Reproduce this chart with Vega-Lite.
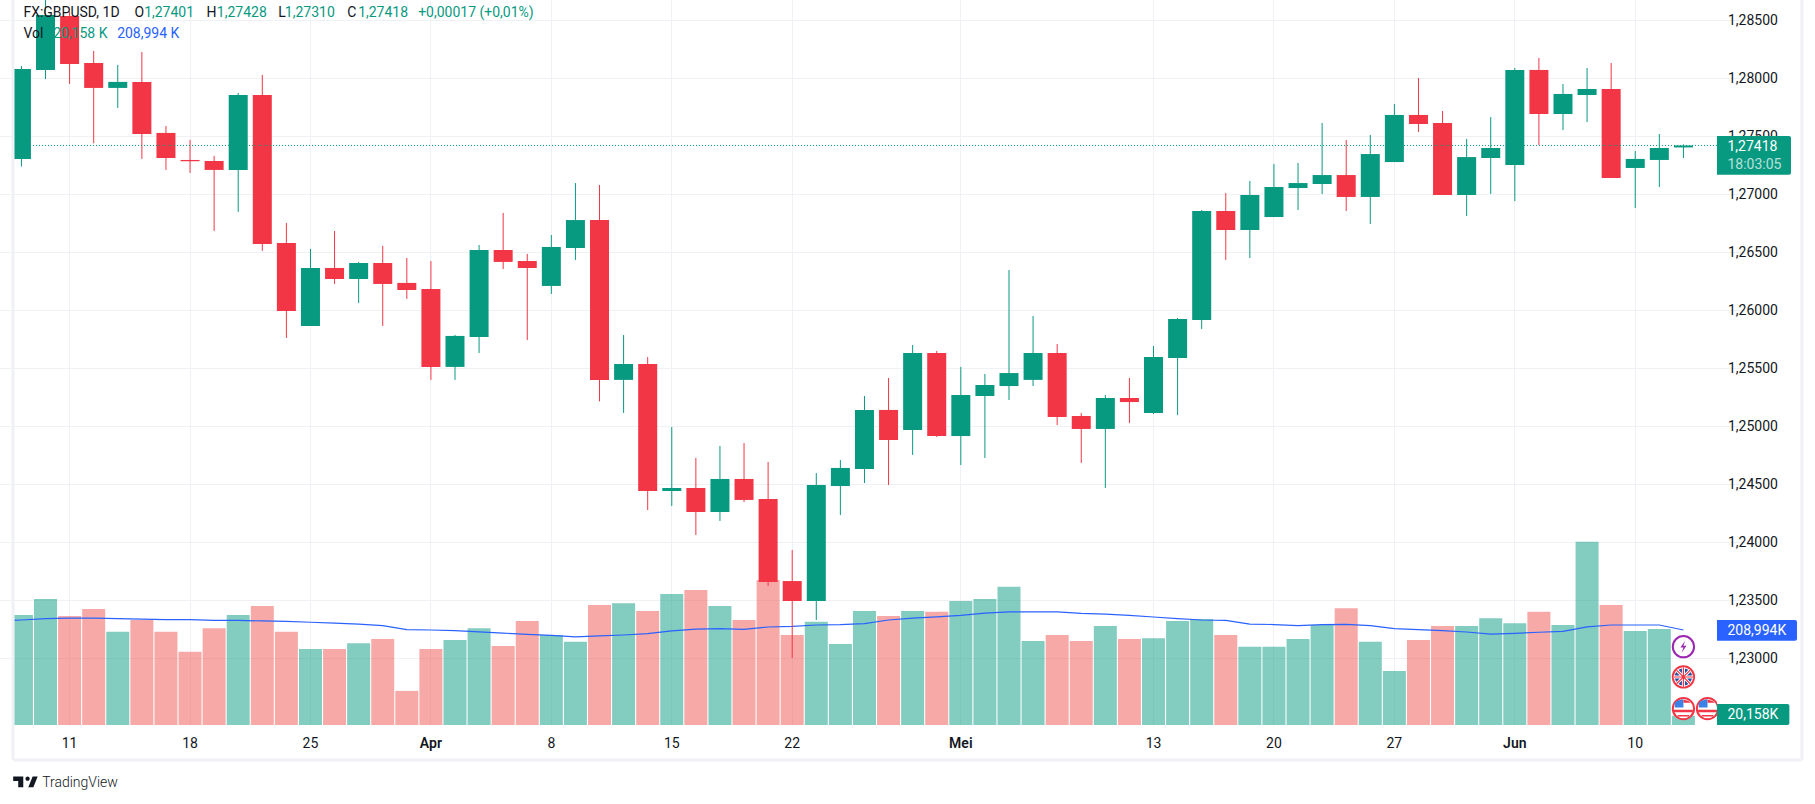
{
  "$schema": "https://vega.github.io/schema/vega-lite/v6.json",
  "description": "FX:GBPUSD daily candles with volume",
  "width": 1704,
  "height": 725,
  "autosize": {"type": "none"},
  "padding": {"left": 13, "top": 0, "right": 98, "bottom": 79},
  "background": "#ffffff",
  "config": {
    "view": {"stroke": null},
    "text": {"font": "Roboto", "fontSize": 14},
    "axis": {"labelFont": "Roboto", "labelFontSize": 14, "labelColor": "#131722"}
  },
  "datasets": {
    "bars": [
      {"date":"2024-03-06","open":1.27200,"high":1.27400,"low":1.27100,"close":1.27300,"vol":230,"ma":229},
      {"date":"2024-03-07","open":1.27302,"high":1.28103,"low":1.27236,"close":1.28078,"vol":242,"ma":231},
      {"date":"2024-03-08","open":1.28069,"high":1.28715,"low":1.27991,"close":1.28543,"vol":277,"ma":234},
      {"date":"2024-03-11","open":1.28534,"high":1.28572,"low":1.27948,"close":1.28121,"vol":240,"ma":235},
      {"date":"2024-03-12","open":1.28129,"high":1.28233,"low":1.27437,"close":1.27914,"vol":255,"ma":235},
      {"date":"2024-03-13","open":1.27914,"high":1.28112,"low":1.27741,"close":1.27966,"vol":205,"ma":234},
      {"date":"2024-03-14","open":1.27966,"high":1.28224,"low":1.27302,"close":1.27517,"vol":231,"ma":233},
      {"date":"2024-03-15","open":1.27526,"high":1.27586,"low":1.27207,"close":1.27310,"vol":205,"ma":232},
      {"date":"2024-03-18","open":1.27293,"high":1.27466,"low":1.27181,"close":1.27282,"vol":161,"ma":232},
      {"date":"2024-03-19","open":1.27284,"high":1.27328,"low":1.26681,"close":1.27207,"vol":213,"ma":230},
      {"date":"2024-03-20","open":1.27207,"high":1.27871,"low":1.26845,"close":1.27853,"vol":242,"ma":230},
      {"date":"2024-03-21","open":1.27853,"high":1.28026,"low":1.26509,"close":1.26569,"vol":262,"ma":229},
      {"date":"2024-03-22","open":1.26578,"high":1.26750,"low":1.25759,"close":1.25991,"vol":205,"ma":228},
      {"date":"2024-03-25","open":1.25862,"high":1.26526,"low":1.25862,"close":1.26362,"vol":167,"ma":226},
      {"date":"2024-03-26","open":1.26362,"high":1.26681,"low":1.26224,"close":1.26267,"vol":167,"ma":224},
      {"date":"2024-03-27","open":1.26267,"high":1.26414,"low":1.26060,"close":1.26405,"vol":180,"ma":222},
      {"date":"2024-03-28","open":1.26405,"high":1.26552,"low":1.25862,"close":1.26224,"vol":189,"ma":218.5},
      {"date":"2024-03-29","open":1.26233,"high":1.26448,"low":1.26095,"close":1.26172,"vol":75,"ma":210},
      {"date":"2024-04-01","open":1.26181,"high":1.26422,"low":1.25397,"close":1.25509,"vol":167,"ma":209},
      {"date":"2024-04-02","open":1.25509,"high":1.25785,"low":1.25397,"close":1.25776,"vol":187,"ma":207.5},
      {"date":"2024-04-03","open":1.25767,"high":1.26560,"low":1.25629,"close":1.26517,"vol":213,"ma":205},
      {"date":"2024-04-04","open":1.26517,"high":1.26836,"low":1.26353,"close":1.26414,"vol":174,"ma":202},
      {"date":"2024-04-05","open":1.26422,"high":1.26483,"low":1.25741,"close":1.26362,"vol":229,"ma":199.5},
      {"date":"2024-04-08","open":1.26207,"high":1.26646,"low":1.26138,"close":1.26543,"vol":198,"ma":197},
      {"date":"2024-04-09","open":1.26534,"high":1.27094,"low":1.26431,"close":1.26775,"vol":183,"ma":194},
      {"date":"2024-04-10","open":1.26775,"high":1.27077,"low":1.25212,"close":1.25397,"vol":264,"ma":196},
      {"date":"2024-04-11","open":1.25397,"high":1.25784,"low":1.25112,"close":1.25534,"vol":268,"ma":198},
      {"date":"2024-04-12","open":1.25534,"high":1.25594,"low":1.24275,"close":1.24439,"vol":251,"ma":201},
      {"date":"2024-04-15","open":1.24439,"high":1.24991,"low":1.24310,"close":1.24465,"vol":288,"ma":207},
      {"date":"2024-04-16","open":1.24465,"high":1.24724,"low":1.24060,"close":1.24258,"vol":297,"ma":211},
      {"date":"2024-04-17","open":1.24258,"high":1.24827,"low":1.24181,"close":1.24543,"vol":262,"ma":212},
      {"date":"2024-04-18","open":1.24543,"high":1.24853,"low":1.24344,"close":1.24362,"vol":231,"ma":210.5},
      {"date":"2024-04-19","open":1.24370,"high":1.24689,"low":1.23620,"close":1.23655,"vol":319,"ma":215.6},
      {"date":"2024-04-22","open":1.23663,"high":1.23931,"low":1.22999,"close":1.23491,"vol":198,"ma":217},
      {"date":"2024-04-23","open":1.23491,"high":1.24594,"low":1.23327,"close":1.24491,"vol":227,"ma":220},
      {"date":"2024-04-24","open":1.24482,"high":1.24706,"low":1.24232,"close":1.24638,"vol":178,"ma":220.7},
      {"date":"2024-04-25","open":1.24629,"high":1.25258,"low":1.24508,"close":1.25138,"vol":251,"ma":223},
      {"date":"2024-04-26","open":1.25138,"high":1.25413,"low":1.24491,"close":1.24879,"vol":240,"ma":231},
      {"date":"2024-04-29","open":1.24965,"high":1.25698,"low":1.24750,"close":1.25629,"vol":251,"ma":235},
      {"date":"2024-04-30","open":1.25629,"high":1.25646,"low":1.24905,"close":1.24913,"vol":249,"ma":238},
      {"date":"2024-05-01","open":1.24913,"high":1.25509,"low":1.24663,"close":1.25267,"vol":273,"ma":241},
      {"date":"2024-05-02","open":1.25258,"high":1.25448,"low":1.24724,"close":1.25353,"vol":277,"ma":246},
      {"date":"2024-05-03","open":1.25344,"high":1.26344,"low":1.25224,"close":1.25456,"vol":304,"ma":249},
      {"date":"2024-05-06","open":1.25397,"high":1.25948,"low":1.25344,"close":1.25629,"vol":185,"ma":249},
      {"date":"2024-05-07","open":1.25629,"high":1.25706,"low":1.25008,"close":1.25077,"vol":198,"ma":249},
      {"date":"2024-05-08","open":1.25086,"high":1.25112,"low":1.24681,"close":1.24974,"vol":185,"ma":245.6},
      {"date":"2024-05-09","open":1.24974,"high":1.25267,"low":1.24465,"close":1.25241,"vol":218,"ma":244},
      {"date":"2024-05-10","open":1.25241,"high":1.25413,"low":1.25025,"close":1.25206,"vol":189,"ma":241},
      {"date":"2024-05-13","open":1.25112,"high":1.25689,"low":1.25103,"close":1.25594,"vol":191,"ma":237.6},
      {"date":"2024-05-14","open":1.25586,"high":1.25931,"low":1.25094,"close":1.25922,"vol":229,"ma":234},
      {"date":"2024-05-15","open":1.25913,"high":1.26862,"low":1.25836,"close":1.26853,"vol":233,"ma":231},
      {"date":"2024-05-16","open":1.26853,"high":1.27008,"low":1.26431,"close":1.26689,"vol":198,"ma":230},
      {"date":"2024-05-17","open":1.26689,"high":1.27112,"low":1.26448,"close":1.26991,"vol":172,"ma":222},
      {"date":"2024-05-20","open":1.26801,"high":1.27258,"low":1.26801,"close":1.27060,"vol":172,"ma":221},
      {"date":"2024-05-21","open":1.27051,"high":1.27267,"low":1.26862,"close":1.27094,"vol":189,"ma":218.5},
      {"date":"2024-05-22","open":1.27086,"high":1.27612,"low":1.27000,"close":1.27163,"vol":220,"ma":221},
      {"date":"2024-05-23","open":1.27163,"high":1.27465,"low":1.26853,"close":1.26974,"vol":257,"ma":221.5},
      {"date":"2024-05-24","open":1.26974,"high":1.27508,"low":1.26741,"close":1.27344,"vol":183,"ma":218.5},
      {"date":"2024-05-27","open":1.27275,"high":1.27775,"low":1.27275,"close":1.27681,"vol":119,"ma":212},
      {"date":"2024-05-28","open":1.27681,"high":1.28000,"low":1.27534,"close":1.27603,"vol":187,"ma":210},
      {"date":"2024-05-29","open":1.27612,"high":1.27715,"low":1.26991,"close":1.26991,"vol":218,"ma":207.5},
      {"date":"2024-05-30","open":1.26991,"high":1.27474,"low":1.26810,"close":1.27318,"vol":218,"ma":204.6},
      {"date":"2024-05-31","open":1.27310,"high":1.27663,"low":1.27000,"close":1.27396,"vol":235,"ma":200},
      {"date":"2024-06-03","open":1.27250,"high":1.28086,"low":1.26939,"close":1.28069,"vol":224,"ma":201.7},
      {"date":"2024-06-04","open":1.28069,"high":1.28172,"low":1.27422,"close":1.27689,"vol":249,"ma":204},
      {"date":"2024-06-05","open":1.27689,"high":1.27948,"low":1.27551,"close":1.27862,"vol":220,"ma":206},
      {"date":"2024-06-06","open":1.27853,"high":1.28086,"low":1.27620,"close":1.27905,"vol":403,"ma":216},
      {"date":"2024-06-07","open":1.27905,"high":1.28129,"low":1.27138,"close":1.27138,"vol":264,"ma":220},
      {"date":"2024-06-10","open":1.27224,"high":1.27370,"low":1.26879,"close":1.27302,"vol":207,"ma":220},
      {"date":"2024-06-11","open":1.27293,"high":1.27517,"low":1.27060,"close":1.27396,"vol":211,"ma":220},
      {"date":"2024-06-12","open":1.27401,"high":1.27428,"low":1.27310,"close":1.27418,"vol":20.158,"ma":208.994}
    ]
  },
  "data": {"name": "bars"},
  "resolve": {"scale": {"y": "independent"}},
  "layer": [
    {
      "layer": [
        {
          "mark": {"type": "bar", "size": 23, "opacity": 0.5, "clip": true},
          "encoding": {
            "x": {
              "field": "date",
              "type": "ordinal",
              "scale": {
                "domain": {"unionWith": ["2024-06-13", "2024-06-14", "2024-06-17", "2024-06-18", "2024-06-19"]},
                "range": [-27.7, 1802.9],
                "paddingInner": 0,
                "paddingOuter": 0
              },
              "axis": {
                "title": null,
                "values": ["2024-03-11", "2024-03-18", "2024-03-25", "2024-04-01", "2024-04-08", "2024-04-15", "2024-04-22", "2024-05-01", "2024-05-13", "2024-05-20", "2024-05-27", "2024-06-03", "2024-06-10"],
                "labelExpr": "datum.value == '2024-04-01' ? 'Apr' : datum.value == '2024-05-01' ? 'Mei' : datum.value == '2024-06-03' ? 'Jun' : '' + toNumber(slice(datum.value, 8))",
                "labelAngle": 0,
                "labelPadding": 11,
                "labelOverlap": false,
                "labelFontWeight": {"condition": {"test": "indexof(['2024-04-01','2024-05-01','2024-06-03'], datum.value) >= 0", "value": 600}, "value": 400},
                "ticks": false,
                "domain": false,
                "grid": true,
                "gridColor": "#f0f1f5",
                "gridWidth": 1
              }
            },
            "y": {"field": "vol", "type": "quantitative", "scale": {"domain": [0, 1595], "nice": false, "zero": true}, "axis": null},
            "color": {"condition": {"test": "datum.close >= datum.open", "value": "#089981"}, "value": "#EF5350"}
          }
        },
        {
          "mark": {"type": "line", "color": "#2962FF", "strokeWidth": 1.2, "clip": true},
          "encoding": {
            "x": {"field": "date", "type": "ordinal"},
            "y": {"field": "ma", "type": "quantitative"}
          }
        }
      ]
    },
    {
      "layer": [
        {
          "mark": {"type": "rule", "strokeWidth": 1, "clip": true},
          "encoding": {
            "x": {"field": "date", "type": "ordinal"},
            "y": {
              "field": "low",
              "type": "quantitative",
              "scale": {"domain": [1.22422, 1.28672], "nice": false, "zero": false},
              "axis": {
                "orient": "right",
                "title": null,
                "values": [1.23, 1.235, 1.24, 1.245, 1.25, 1.255, 1.26, 1.265, 1.27, 1.275, 1.28, 1.285],
                "labelExpr": "replace(format(datum.value, '.5f'), '.', ',')",
                "labelPadding": 10.5,
                "labelOffset": 1,
                "labelOverlap": false,
                "ticks": false,
                "domain": false,
                "grid": true,
                "gridColor": "#f0f1f5",
                "gridWidth": 1
              }
            },
            "y2": {"field": "high"},
            "color": {"condition": {"test": "datum.close >= datum.open", "value": "#089981"}, "value": "#F23645"}
          }
        },
        {
          "mark": {"type": "bar", "size": 19, "clip": true},
          "encoding": {
            "x": {"field": "date", "type": "ordinal"},
            "y": {"field": "open", "type": "quantitative"},
            "y2": {"field": "close"},
            "color": {"condition": {"test": "datum.close >= datum.open", "value": "#089981"}, "value": "#F23645"}
          }
        },
        {
          "data": {"values": [{"price": 1.27418}]},
          "mark": {"type": "rule", "color": "#089981", "strokeWidth": 1, "strokeDash": [1, 2]},
          "encoding": {"y": {"field": "price", "type": "quantitative"}}
        },
        {
          "data": {"values": [{"name": "left"}]},
          "mark": {"type": "rule", "color": "#f0f1f6", "strokeWidth": 3, "xOffset": -8.4},
          "encoding": {
            "x": {"datum": "2024-03-07", "type": "ordinal"},
            "y": {"datum": 1.28672, "type": "quantitative"},
            "y2": {"datum": 1.2212}
          }
        },
        {
          "data": {"values": [{"name": "right"}]},
          "mark": {"type": "rule", "color": "#f0f1f6", "strokeWidth": 3, "xOffset": -1.9},
          "encoding": {
            "x": {"datum": "2024-06-19", "type": "ordinal"},
            "y": {"datum": 1.28672, "type": "quantitative"},
            "y2": {"datum": 1.2212}
          }
        },
        {
          "data": {"values": [{"name": "bottom"}]},
          "mark": {"type": "rule", "color": "#f0f1f6", "strokeWidth": 3, "xOffset": -8.4, "x2Offset": -1.9},
          "encoding": {
            "x": {"datum": "2024-03-07", "type": "ordinal"},
            "x2": {"datum": "2024-06-19"},
            "y": {"datum": 1.2212, "type": "quantitative"}
          }
        },
        {
          "data": {"values": [{"name": "last", "top": 1.275, "bottom": 1.27166}]},
          "mark": {"type": "bar", "size": 74, "xOffset": -1.7, "color": "#089981", "cornerRadiusTopRight": 2, "cornerRadiusBottomRight": 2},
          "encoding": {
            "x": {"datum": "2024-06-17", "type": "ordinal"},
            "y": {"field": "top", "type": "quantitative"},
            "y2": {"field": "bottom"}
          }
        },
        {
          "data": {"values": [{"name": "ma", "top": 1.23327, "bottom": 1.23149}]},
          "mark": {"type": "bar", "size": 80, "xOffset": 1.3, "color": "#2962FF", "cornerRadiusTopRight": 2, "cornerRadiusBottomRight": 2},
          "encoding": {
            "x": {"datum": "2024-06-17", "type": "ordinal"},
            "y": {"field": "top", "type": "quantitative"},
            "y2": {"field": "bottom"}
          }
        },
        {
          "data": {"values": [{"name": "vol", "top": 1.22603, "bottom": 1.22422}]},
          "mark": {"type": "bar", "size": 72.4, "xOffset": -2.5, "color": "#089981", "cornerRadiusTopRight": 2, "cornerRadiusBottomRight": 2},
          "encoding": {
            "x": {"datum": "2024-06-17", "type": "ordinal"},
            "y": {"field": "top", "type": "quantitative"},
            "y2": {"field": "bottom"}
          }
        },
        {
          "data": {"values": [
            {"label": "1,27418", "price": 1.27414, "c": "last"},
            {"label": "208,994K", "price": 1.23241, "c": "ma"},
            {"label": "20,158K", "price": 1.22517, "c": "vol"}
          ]},
          "mark": {"type": "text", "align": "left", "baseline": "middle", "dx": -28.2, "dy": 1, "color": "#ffffff"},
          "encoding": {
            "x": {"datum": "2024-06-17", "type": "ordinal"},
            "y": {"field": "price", "type": "quantitative"},
            "text": {"field": "label"}
          }
        },
        {
          "data": {"values": [{"label": "18:03:05", "price": 1.27261}]},
          "mark": {"type": "text", "align": "left", "baseline": "middle", "dx": -28.2, "dy": 1, "color": "#ffffff", "opacity": 0.7},
          "encoding": {
            "x": {"datum": "2024-06-17", "type": "ordinal"},
            "y": {"field": "price", "type": "quantitative"},
            "text": {"field": "label"}
          }
        },
        {
          "data": {"values": [
            {"date": "2024-06-12", "price": 1.22836},
            {"date": "2024-06-12", "price": 1.22563},
            {"date": "2024-06-13", "price": 1.22563}
          ]},
          "mark": {"type": "point", "shape": "circle", "filled": true, "fill": "#ffffff", "stroke": "#F23645", "strokeWidth": 2, "size": 452, "opacity": 1, "clip": true},
          "encoding": {
            "x": {"field": "date", "type": "ordinal"},
            "y": {"field": "price", "type": "quantitative"}
          }
        },
        {
          "data": {"values": [{"date": "2024-06-12", "price": 1.23097}]},
          "mark": {"type": "point", "shape": "circle", "filled": true, "fill": "#ffffff", "stroke": "#9C27B0", "strokeWidth": 2, "size": 452, "opacity": 1},
          "encoding": {
            "x": {"field": "date", "type": "ordinal"},
            "y": {"field": "price", "type": "quantitative"}
          }
        },
        {
          "data": {"values": [{"date": "2024-06-12", "price": 1.23097}]},
          "mark": {"type": "point", "shape": "M.2,-.7 L-.35,.1 H0 L-.2,.7 L.35,-.1 H0 Z", "filled": true, "fill": "#9C27B0", "strokeWidth": 0, "size": 300, "opacity": 1},
          "encoding": {
            "x": {"field": "date", "type": "ordinal"},
            "y": {"field": "price", "type": "quantitative"}
          }
        },
        {
          "data": {"values": [{"date": "2024-06-12", "price": 1.22836}]},
          "mark": {"type": "point", "shape": "circle", "filled": true, "fill": "#2a4f9e", "strokeWidth": 0, "size": 300, "opacity": 1},
          "encoding": {
            "x": {"field": "date", "type": "ordinal"},
            "y": {"field": "price", "type": "quantitative"}
          }
        },
        {
          "data": {"values": [{"date": "2024-06-12", "price": 1.22836}]},
          "mark": {"type": "point", "shape": "M-.7,-.7 L.7,.7 M-.7,.7 L.7,-.7 M0,-1 L0,1 M-1,0 L1,0", "filled": false, "stroke": "#ffffff", "strokeWidth": 3, "size": 380, "opacity": 1},
          "encoding": {
            "x": {"field": "date", "type": "ordinal"},
            "y": {"field": "price", "type": "quantitative"}
          }
        },
        {
          "data": {"values": [{"date": "2024-06-12", "price": 1.22836}]},
          "mark": {"type": "point", "shape": "M-.7,-.7 L.7,.7 M-.7,.7 L.7,-.7 M0,-1 L0,1 M-1,0 L1,0", "filled": false, "stroke": "#F23645", "strokeWidth": 1.2, "size": 380, "opacity": 1},
          "encoding": {
            "x": {"field": "date", "type": "ordinal"},
            "y": {"field": "price", "type": "quantitative"}
          }
        },
        {
          "data": {"values": [{"date": "2024-06-12", "price": 1.22563}, {"date": "2024-06-13", "price": 1.22563}]},
          "mark": {"type": "point", "shape": "M-.82,-.1 V-.55 Q-.6,-.85 0,-.9 V-.1 Z", "filled": true, "fill": "#3b82e6", "strokeWidth": 0, "size": 441, "opacity": 1, "clip": true},
          "encoding": {
            "x": {"field": "date", "type": "ordinal"},
            "y": {"field": "price", "type": "quantitative"}
          }
        },
        {
          "data": {"values": [{"date": "2024-06-12", "price": 1.22563}, {"date": "2024-06-13", "price": 1.22563}]},
          "mark": {"type": "point", "shape": "M0,-.85 Q.5,-.8 .7,-.55 H0 Z M-.9,.1 H.9 V.35 H-.9 Z M-.55,.6 H.55 V.75 H-.55 Z", "filled": true, "fill": "#F23645", "strokeWidth": 0, "size": 441, "opacity": 1, "clip": true},
          "encoding": {
            "x": {"field": "date", "type": "ordinal"},
            "y": {"field": "price", "type": "quantitative"}
          }
        },
        {
          "data": {"values": [{"label": "FX:GBPUSD, 1D"}]},
          "mark": {"type": "text", "align": "left", "baseline": "middle", "dx": 2, "dy": 1, "color": "#131722"},
          "encoding": {"x": {"datum": "2024-03-07", "type": "ordinal"}, "y": {"datum": 1.28572, "type": "quantitative"}, "text": {"field": "label"}}
        },
        {
          "data": {"values": [{"label": "O"}]},
          "mark": {"type": "text", "align": "left", "baseline": "middle", "dx": 113.1, "dy": 1, "color": "#131722"},
          "encoding": {"x": {"datum": "2024-03-07", "type": "ordinal"}, "y": {"datum": 1.28572, "type": "quantitative"}, "text": {"field": "label"}}
        },
        {
          "data": {"values": [{"label": "1,27401"}]},
          "mark": {"type": "text", "align": "left", "baseline": "middle", "dx": 122.7, "dy": 1, "color": "#089981"},
          "encoding": {"x": {"datum": "2024-03-07", "type": "ordinal"}, "y": {"datum": 1.28572, "type": "quantitative"}, "text": {"field": "label"}}
        },
        {
          "data": {"values": [{"label": "H"}]},
          "mark": {"type": "text", "align": "left", "baseline": "middle", "dx": 185.1, "dy": 1, "color": "#131722"},
          "encoding": {"x": {"datum": "2024-03-07", "type": "ordinal"}, "y": {"datum": 1.28572, "type": "quantitative"}, "text": {"field": "label"}}
        },
        {
          "data": {"values": [{"label": "1,27428"}]},
          "mark": {"type": "text", "align": "left", "baseline": "middle", "dx": 195.4, "dy": 1, "color": "#089981"},
          "encoding": {"x": {"datum": "2024-03-07", "type": "ordinal"}, "y": {"datum": 1.28572, "type": "quantitative"}, "text": {"field": "label"}}
        },
        {
          "data": {"values": [{"label": "L"}]},
          "mark": {"type": "text", "align": "left", "baseline": "middle", "dx": 256.7, "dy": 1, "color": "#131722"},
          "encoding": {"x": {"datum": "2024-03-07", "type": "ordinal"}, "y": {"datum": 1.28572, "type": "quantitative"}, "text": {"field": "label"}}
        },
        {
          "data": {"values": [{"label": "1,27310"}]},
          "mark": {"type": "text", "align": "left", "baseline": "middle", "dx": 263.4, "dy": 1, "color": "#089981"},
          "encoding": {"x": {"datum": "2024-03-07", "type": "ordinal"}, "y": {"datum": 1.28572, "type": "quantitative"}, "text": {"field": "label"}}
        },
        {
          "data": {"values": [{"label": "C"}]},
          "mark": {"type": "text", "align": "left", "baseline": "middle", "dx": 325.7, "dy": 1, "color": "#131722"},
          "encoding": {"x": {"datum": "2024-03-07", "type": "ordinal"}, "y": {"datum": 1.28572, "type": "quantitative"}, "text": {"field": "label"}}
        },
        {
          "data": {"values": [{"label": "1,27418"}]},
          "mark": {"type": "text", "align": "left", "baseline": "middle", "dx": 336.7, "dy": 1, "color": "#089981"},
          "encoding": {"x": {"datum": "2024-03-07", "type": "ordinal"}, "y": {"datum": 1.28572, "type": "quantitative"}, "text": {"field": "label"}}
        },
        {
          "data": {"values": [{"label": "+0,00017 (+0,01%)"}]},
          "mark": {"type": "text", "align": "left", "baseline": "middle", "dx": 396.7, "dy": 1, "color": "#089981"},
          "encoding": {"x": {"datum": "2024-03-07", "type": "ordinal"}, "y": {"datum": 1.28572, "type": "quantitative"}, "text": {"field": "label"}}
        },
        {
          "data": {"values": [{"label": "Vol"}]},
          "mark": {"type": "text", "align": "left", "baseline": "middle", "dx": 2, "dy": 1, "color": "#131722"},
          "encoding": {"x": {"datum": "2024-03-07", "type": "ordinal"}, "y": {"datum": 1.2839, "type": "quantitative"}, "text": {"field": "label"}}
        },
        {
          "data": {"values": [{"label": "20,158 K"}]},
          "mark": {"type": "text", "align": "left", "baseline": "middle", "dx": 31.7, "dy": 1, "color": "#089981"},
          "encoding": {"x": {"datum": "2024-03-07", "type": "ordinal"}, "y": {"datum": 1.2839, "type": "quantitative"}, "text": {"field": "label"}}
        },
        {
          "data": {"values": [{"label": "208,994 K"}]},
          "mark": {"type": "text", "align": "left", "baseline": "middle", "dx": 95.7, "dy": 1, "color": "#2962FF"},
          "encoding": {"x": {"datum": "2024-03-07", "type": "ordinal"}, "y": {"datum": 1.2839, "type": "quantitative"}, "text": {"field": "label"}}
        },
        {
          "data": {"values": [{"name": "logo"}]},
          "mark": {"type": "point", "shape": "M-.176,-.441 L-1,-.441 L-1,-.088 L-.588,-.088 L-.588,.441 L-.176,.441 Z M.647,.441 L.235,.441 L.588,-.441 L1,-.441 Z M0,-.265 a.176,.176 0 1 1 .352,0 a.176,.176 0 1 1 -.352,0 Z", "filled": true, "fill": "#131722", "strokeWidth": 0, "size": 600, "opacity": 1, "xOffset": 4},
          "encoding": {"x": {"datum": "2024-03-07", "type": "ordinal"}, "y": {"datum": 1.21931, "type": "quantitative"}}
        },
        {
          "data": {"values": [{"label": "TradingView"}]},
          "mark": {"type": "text", "align": "left", "baseline": "middle", "dx": 20.7, "dy": 1, "color": "#131722", "fontWeight": 300},
          "encoding": {"x": {"datum": "2024-03-07", "type": "ordinal"}, "y": {"datum": 1.21931, "type": "quantitative"}, "text": {"field": "label"}}
        }
      ]
    }
  ]
}
